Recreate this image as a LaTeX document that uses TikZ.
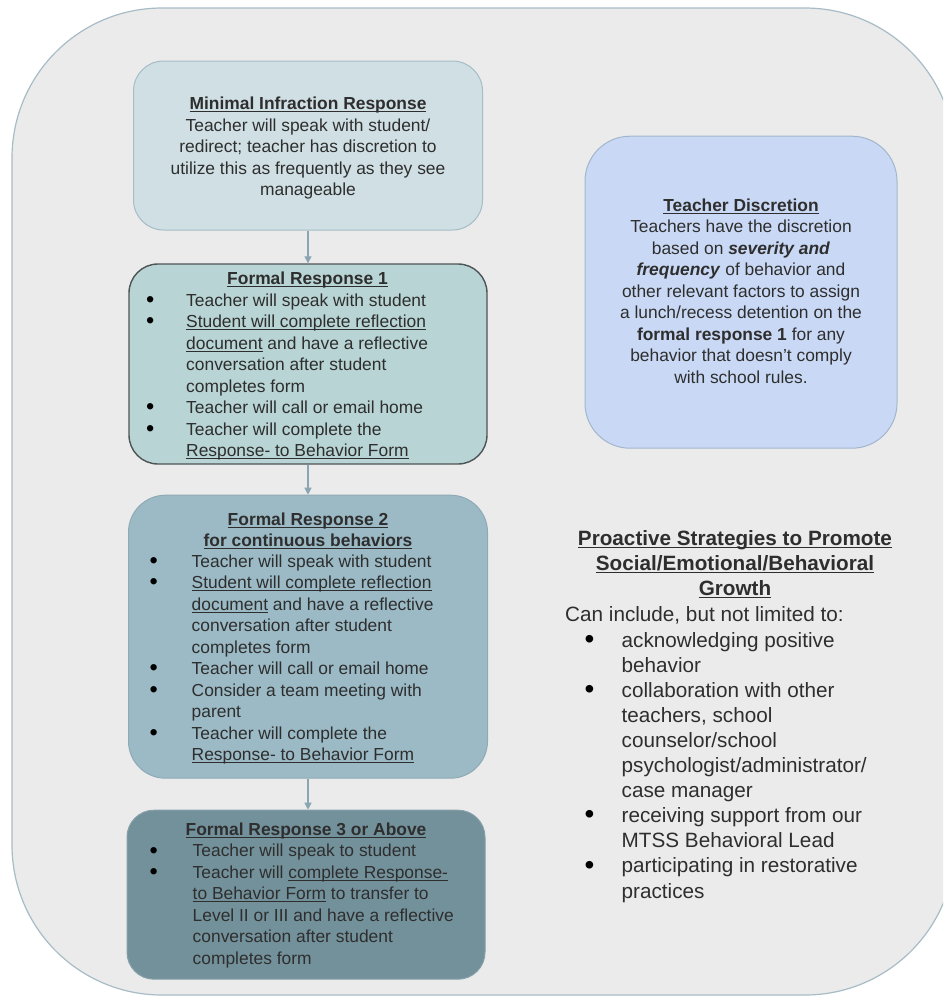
\documentclass[tikz,border=0pt]{standalone}
\usepackage{fontspec}
\setmainfont{Liberation Sans}
\usetikzlibrary{arrows.meta}

\definecolor{panelbg}{HTML}{EBEBEB}
\definecolor{panelline}{HTML}{A7BCC6}
\definecolor{minfill}{HTML}{CFDFE4}
\definecolor{minline}{HTML}{A5BDC6}
\definecolor{onefill}{HTML}{B8D4D4}
\definecolor{oneline}{HTML}{4D5456}
\definecolor{twofill}{HTML}{9BBAC5}
\definecolor{twoline}{HTML}{8EAAB5}
\definecolor{threefill}{HTML}{73919B}
\definecolor{threeline}{HTML}{86A0A9}
\definecolor{discfill}{HTML}{C9D9F5}
\definecolor{discline}{HTML}{A1B6CC}
\definecolor{flowarrow}{HTML}{8AA6B3}
\definecolor{txt}{HTML}{2E2E2E}

% underline at a fixed depth
\newcommand\undl[1]{\setbox0=\hbox{#1}\rlap{\rule[-2.4pt]{\wd0}{0.9pt}}\box0\relax}
% bullet line and its continuation
\newcommand\bulletmark{\smash{\textcolor{black}{\raisebox{-1.2pt}{\scalebox{1.35}{\textbullet}}}}}
\newcommand\bul[2][40pt]{\makebox[#1][l]{\bulletmark}#2}
\newcommand\bulc[2][40pt]{\hspace*{#1}#2}

\tikzset{
  flowbox/.style={rectangle, inner sep=0pt, line width=1pt},
  boxtext/.style={text=txt, inner sep=0pt, font=\fontsize{17.4}{21.5}\selectfont},
  bigtext/.style={text=txt, inner sep=0pt, font=\fontsize{20.7}{25.1}\selectfont},
  flow/.style={draw=flowarrow, line width=1.2pt, -{Triangle[length=7pt,width=7pt]}}
}

\begin{document}
\begin{tikzpicture}[x=1pt,y=-1pt]
  \useasboundingbox (0,0) rectangle (943,996);
  \clip (0,0) rectangle (943,996);

  % Panel
  \draw[draw=panelline, fill=panelbg, line width=1.2pt, rounded corners=150pt] (12,8) rectangle (955,995);

  % Left column boxes
  \node[flowbox, fill=minfill, draw=minline, rounded corners=30pt,
        minimum width=349pt, minimum height=169pt] (mir) at (308,145.5) {};
  \node[flowbox, fill=onefill, draw=oneline, line width=1.4pt, rounded corners=29pt,
        minimum width=358pt, minimum height=200pt] (fr1) at (308,364) {};
  \node[flowbox, fill=twofill, draw=twoline, rounded corners=37pt,
        minimum width=359pt, minimum height=283pt] (fr2) at (308,636.7) {};
  \node[flowbox, fill=threefill, draw=threeline, rounded corners=27pt,
        minimum width=358pt, minimum height=169pt] (fr3) at (306,894.7) {};

  \draw[flow] (mir.south) -- (fr1.north);
  \draw[flow] (fr1.south) -- (fr2.north);
  \draw[flow] (fr2.south) -- (fr2.south |- fr3.north);

  % Minimal infraction
  \node[boxtext, align=center, anchor=north] (mirtext) at (308,96.8)
    {\textbf{\undl{Minimal Infraction Response}}\\
     Teacher will speak with student/\\
     redirect; teacher has discretion to\\
     utilize this as frequently as they see\\
     manageable};

  % Formal response 1
  \node[boxtext, anchor=north] (fr1head) at (307.5,271.5) {\textbf{\undl{Formal Response 1}}};
  \node[boxtext, align=left, anchor=north west] (fr1list) at (146,293.3)
    {\bul{Teacher will speak with student}\\
     \bul{\undl{Student will complete reflection}}\\
     \bulc{\undl{document} and have a reflective}\\
     \bulc{conversation after student}\\
     \bulc{completes form}\\
     \bul{Teacher will call or email home}\\
     \bul{Teacher will complete the}\\
     \bulc{\undl{Response- to Behavior Form}}};

  % Formal response 2
  \node[boxtext, align=center, anchor=north] (fr2head) at (308,512.5)
    {\textbf{\undl{Formal Response 2}}\\ \textbf{\undl{for continuous behaviors}}};
  \node[boxtext, align=left, anchor=north west] (fr2list) at (149.5,554.3)
    {\bul[42pt]{Teacher will speak with student}\\
     \bul[42pt]{\undl{Student will complete reflection}}\\
     \bulc[42pt]{\undl{document} and have a reflective}\\
     \bulc[42pt]{conversation after student}\\
     \bulc[42pt]{completes form}\\
     \bul[42pt]{Teacher will call or email home}\\
     \bul[42pt]{Consider a team meeting with}\\
     \bulc[42pt]{parent}\\
     \bul[42pt]{Teacher will complete the}\\
     \bulc[42pt]{\undl{Response- to Behavior Form}}};

  % Formal response 3
  \node[boxtext, anchor=north] (fr3head) at (306,822.5) {\textbf{\undl{Formal Response 3 or Above}}};
  \node[boxtext, align=left, anchor=north west] (fr3list) at (149.5,844)
    {\bul[43pt]{Teacher will speak to student}\\
     \bul[43pt]{Teacher will \undl{complete Response-}}\\
     \bulc[43pt]{\undl{to Behavior Form} to transfer to}\\
     \bulc[43pt]{Level II or III and have a reflective}\\
     \bulc[43pt]{conversation after student}\\
     \bulc[43pt]{completes form}};

  % Teacher discretion
  \node[flowbox, fill=discfill, draw=discline, rounded corners=45pt,
        minimum width=312pt, minimum height=312pt] (disc) at (741,292.2) {};
  \node[boxtext, align=center, anchor=north] (disctext) at (741,198.5)
    {\textbf{\undl{Teacher Discretion}}\\
     Teachers have the discretion\\
     based on \textbf{\textit{severity and}}\\
     \textbf{\textit{frequency}} of behavior and\\
     other relevant factors to assign\\
     a lunch/recess detention on the\\
     \textbf{formal response 1} for any\\
     behavior that doesn't comply\\
     with school rules.};

  % Proactive strategies
  \node[bigtext, align=center, anchor=north] (prohead) at (735,530.2)
    {\textbf{\undl{Proactive Strategies to Promote}}\\
     \textbf{\undl{Social/Emotional/Behavioral}}\\
     \textbf{\undl{Growth}}};
  \node[bigtext, anchor=north west] (proincl) at (565,605.9) {Can include, but not limited to:};
  \node[bigtext, align=left, anchor=north west] (prolist) at (584.5,631.8)
    {\bul[37pt]{acknowledging positive}\\
     \bulc[37pt]{behavior}\\
     \bul[37pt]{collaboration with other}\\
     \bulc[37pt]{teachers, school}\\
     \bulc[37pt]{counselor/school}\\
     \bulc[37pt]{psychologist/administrator/}\\
     \bulc[37pt]{case manager}\\
     \bul[37pt]{receiving support from our}\\
     \bulc[37pt]{MTSS Behavioral Lead}\\
     \bul[37pt]{participating in restorative}\\
     \bulc[37pt]{practices}};
\end{tikzpicture}
\end{document}
